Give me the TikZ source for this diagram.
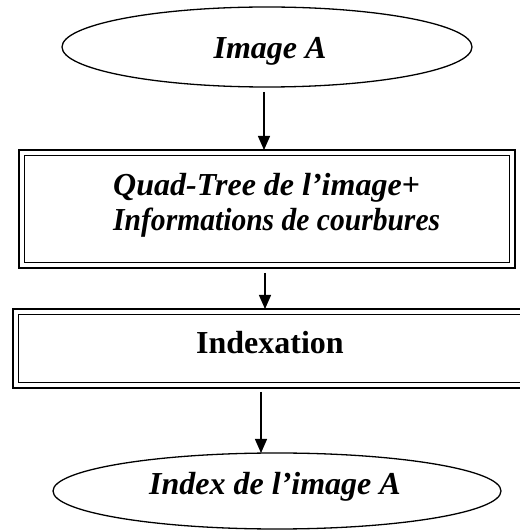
\documentclass[tikz,border=0pt]{standalone}
\usepackage{fontspec}
\setmainfont{Liberation Serif}
\usetikzlibrary{shapes.geometric,arrows.meta}

\tikzset{
  oval/.style={ellipse, draw, line width=1.3pt, inner sep=0pt, outer sep=0pt},
  framebox/.style={rectangle, draw, line width=2.2pt, inner sep=0pt, outer sep=0pt},
  txt/.style={anchor=base, inner sep=0pt, font=\fontsize{32}{35}\selectfont\bfseries\itshape},
  txtup/.style={anchor=base, inner sep=0pt, font=\fontsize{32}{35}\selectfont\bfseries},
  arr/.style={line width=1.3pt, -{Triangle[length=14pt,width=12pt]}},
}

% second, thinner frame drawn just inside a framed box
\newcommand{\innerframe}[1]{%
  \draw[line width=1.5pt] ([shift={(5.5pt,-5.5pt)}]#1.north west)
    rectangle ([shift={(-5.5pt,5.5pt)}]#1.south east);}

\begin{document}
\begin{tikzpicture}[x=1pt,y=1pt]
\useasboundingbox (0,0) rectangle (520,531);

% input image
\node[oval, minimum width=410pt, minimum height=80pt] (imgA) at (267,484) {};
\node[txt] (imgAtxt) at (270,472) {Image A};

% quad-tree stage
\node[framebox, minimum width=496pt, minimum height=118pt] (quad) at (267,322) {};
\innerframe{quad}
\node[txt, anchor=base west] (quadl1) at (113,335) {Quad-Tree de l’image+};
\node[txt, anchor=base west] (quadl2) at (113,300) {\scalebox{0.924}[1]{Informations de courbures}};

% indexing stage (runs off the right edge)
\node[framebox, minimum width=513pt, minimum height=79pt] (idx) at (269.5,182.5) {};
\innerframe{idx}
\node[txtup] (idxtxt) at (270,177) {Indexation};

% resulting index
\node[oval, minimum width=448pt, minimum height=76pt] (out) at (277,40) {};
\node[txt] (outtxt) at (275,36) {Index de l’image A};

% flow
\draw[arr] ([xshift=-3pt,yshift=-5pt]imgA.south) -- ([xshift=-3pt]quad.north);
\draw[arr] ([xshift=-2pt,yshift=-5pt]quad.south) -- ([xshift=-4.5pt]idx.north);
\draw[arr] ([xshift=-8.5pt,yshift=-4pt]idx.south) -- ([xshift=-16pt]out.north);
\end{tikzpicture}
\end{document}
